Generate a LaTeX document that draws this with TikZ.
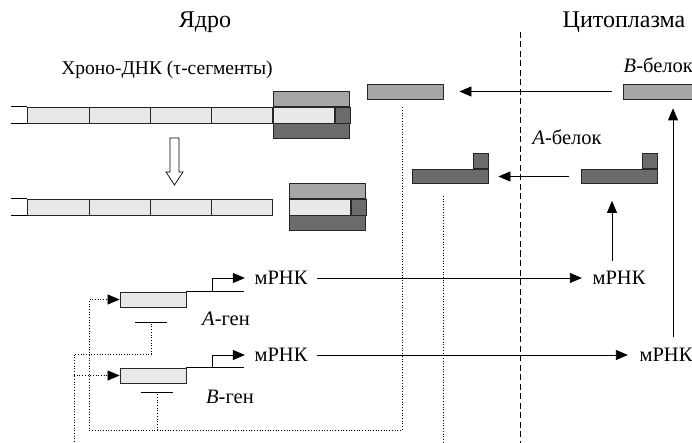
\documentclass[tikz,border=0pt]{standalone}
\usepackage{fontspec}
\setmainfont{Liberation Serif}
\usetikzlibrary{arrows.meta,calc,positioning}

\definecolor{segfill}{gray}{0.91}
\definecolor{bprotfill}{gray}{0.65}
\definecolor{aprotfill}{gray}{0.42}

\begin{document}
\begin{tikzpicture}[x=1pt,y=-1pt,line width=0.8pt,>={Triangle[length=12pt,width=10pt]},
    every node/.style={font=\fontsize{20.5}{24}\selectfont}]
    \tikzstyle{heading}=[font=\fontsize{24}{28}\selectfont]
    \tikzstyle{box}=[draw=black!85,inner sep=0pt,minimum height=15pt]
    \tikzstyle{seg}=[box,fill=segfill,minimum width=61.25pt,minimum height=16pt]
    \tikzstyle{tip}=[box,fill=aprotfill,minimum width=15pt,minimum height=16pt]
    \tikzstyle{bprot}=[box,fill=bprotfill,minimum width=76pt]
    \tikzstyle{aprot}=[box,fill=aprotfill,minimum width=76pt]
    \tikzstyle{aknob}=[box,fill=aprotfill,minimum width=15pt,minimum height=15.5pt]
    \tikzstyle{gene}=[box,fill=segfill,minimum width=66pt]
    \tikzstyle{reg}=[dotted,line width=0.7pt]
    \tikzstyle{border}=[line width=0.9pt,dash pattern=on 6pt off 3.5pt]

\useasboundingbox (0,0) rectangle (692,443);

% headings
\node[heading] (nuc) at (205,22) {Ядро};
\node[heading] (cyt) at (624,22) {Цитоплазма};
\node[font=\fontsize{19.5}{23}\selectfont] (chr) at (167,70) {Хроно-ДНК (τ-сегменты)};
\draw[border] (520,32) -- (520,443);

% chrono-DNA before and after one step
\foreach \i in {0,...,3} {
  \node[seg] (t\i) at (58.5+61.25*\i,115) {};
  \node[seg] (b\i) at (58.5+61.25*\i,207) {};
}
\draw (t0.north west) -- ++(-16,0) (t0.south west) -- ++(-16,0);
\draw (b0.north west) -- ++(-16,0) (b0.south west) -- ++(-16,0);

\node[seg,minimum width=61pt] (m1) [right=0pt of t3] {};
\node[tip] (q1) [right=0pt of m1] {};
\node[bprot,anchor=south west] (u1) at (m1.north west) {};
\node[aprot,anchor=north west] (l1) at (m1.south west) {};

\node[seg,minimum width=61pt] (m2) [right=16pt of b3] {};
\node[tip] (q2) [right=0pt of m2] {};
\node[bprot,anchor=south west] (u2) at (m2.north west) {};
\node[aprot,anchor=north west] (l2) at (m2.south west) {};

\draw[fill=white,line width=0.7pt] (170,138) -- (179,138) -- (179,172) -- (183,172)
    -- (174.5,185) -- (166,172) -- (170,172) -- cycle;

% proteins
\node[bprot] (bl) at (405,91.5) {};
\node[bprot] (br) at (661,91.5) {};
\node[anchor=west] (bt) at (620,65) {\textit{B}-белок};
\draw[->,shorten <=11pt,shorten >=16pt] (br) -- (bl);

\node[aprot,minimum height=14pt] (al) at (450,176.5) {};
\node[aknob,anchor=south east] (alq) at (al.north east) {};
\node[aprot,minimum height=14pt] (ar) at (619,176.5) {};
\node[aknob,anchor=south east] (arq) at (ar.north east) {};
\node (at) at (567,137) {\textit{A}-белок};
\draw[->,shorten <=12pt,shorten >=10pt] (ar) -- (al);

% genes
\node[gene] (ga) at (153,299.5) {};
\node[gene] (gb) at (153,375.5) {};
\node (la) at (226,319) {\textit{A}-ген};
\node (lb) at (230,397) {\textit{B}-ген};
\draw (ga.north east) -- ++(58,0);
\draw (gb.north east) -- ++(58,0);

\node (ma) at (281,278) {мРНК};
\node (mb) at (281,355) {мРНК};
\node (mar) at (619,278) {мРНК};
\node (mbr) at (666,355) {мРНК};

\draw[->,shorten >=6pt] ($(ga.north east)+(26,0)$) |- (ma.west);
\draw[->,shorten >=6pt] ($(gb.north east)+(26,0)$) |- (mb.west);
\draw[->,shorten <=6pt,shorten >=7pt] (ma) -- (mar);
\draw[->,shorten <=6pt,shorten >=8pt] (mb) -- (mbr);

% translation
\draw[->,shorten <=7pt,shorten >=17pt] ([xshift=-7pt]mar.north) -- ([xshift=-7pt]mar.north |- ar.south);
\draw[->,shorten <=8pt,shorten >=9pt] ([xshift=7pt]mbr.north) -- ([xshift=7pt]mbr.north |- br.south);

% feedback of the proteins on the genes
\coordinate (ra) at (151,322);
\coordinate (rb) at (157,392);
\coordinate (ka) at (74,354);
\coordinate (kb) at (89,430);

\draw[reg,->] ([shift={(-3,8)}]bl.south) |- (kb) |- (ga.west);
\draw[reg,-{Bar[width=32pt,line width=0.9pt]}] (kb -| rb) -- (rb);

\draw[reg,-{Bar[width=32pt,line width=0.9pt]}] ([shift={(-7,12)}]al.south) -- ++(0,280) -| (ka) -| (ra);
\draw[reg,->] (ka |- gb.west) -- (gb.west);
\end{tikzpicture}
\end{document}
